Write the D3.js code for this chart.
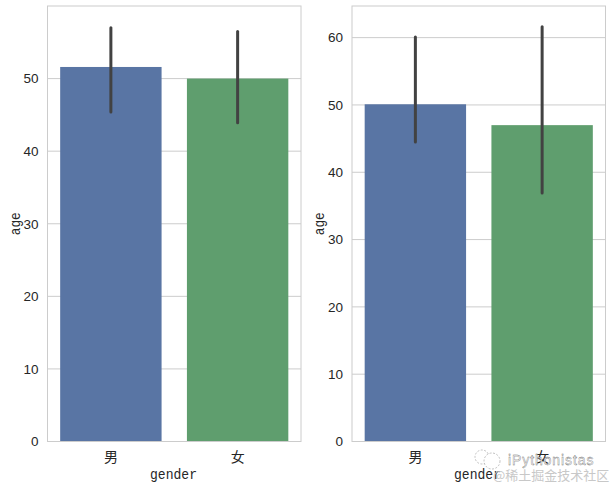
<!DOCTYPE html>
<html>
<head>
<meta charset="utf-8">
<script src="https://cdn.jsdelivr.net/npm/d3@7"></script>
<style>
    body { margin: 0; background: #fff; }
    svg { display: block; }
    .tick text { font-family: "Liberation Sans", sans-serif; font-size: 13.5px; fill: #262626; }
    .cat { font-family: "Noto Sans CJK SC", sans-serif; font-size: 14px; fill: #262626; }
    .label { font-family: "Liberation Mono", monospace; font-size: 15px; fill: #262626; }
</style>
</head>
<body>
<svg id="chart" width="612" height="487"></svg>
<script>
const categories = ['男', '女'];
const barColors = ['#5975a4', '#5f9e6e'];

const leftValues = [51.6, 50.0];
const leftErrLow = [45.4, 43.9];
const leftErrHigh = [57.0, 56.5];
const leftTicks = [0, 10, 20, 30, 40, 50];

const rightValues = [50.1, 47.0];
const rightErrLow = [44.5, 36.9];
const rightErrHigh = [60.1, 61.6];
const rightTicks = [0, 10, 20, 30, 40, 50, 60];

const svg = d3.select('#chart');

function drawPanel(opts) {
    const x = d3.scaleBand()
        .domain(categories)
        .range([opts.left, opts.right])
        .paddingInner(0.2)
        .paddingOuter(0.1);
    const y = d3.scaleLinear()
        .domain([0, opts.yMax])
        .range([opts.bottom, opts.top]);

    const g = svg.append('g');

    // grid lines sit under the bars
    g.selectAll('.grid')
        .data(opts.ticks)
        .enter()
        .append('line')
        .attr('x1', opts.left)
        .attr('x2', opts.right)
        .attr('y1', d => y(d))
        .attr('y2', d => y(d))
        .attr('stroke', '#cccccc')
        .attr('stroke-width', 1);

    g.selectAll('.bar')
        .data(categories)
        .enter()
        .append('rect')
        .attr('x', d => x(d))
        .attr('width', x.bandwidth())
        .attr('y', (d, i) => y(opts.values[i]))
        .attr('height', (d, i) => y(0) - y(opts.values[i]))
        .attr('fill', (d, i) => barColors[i]);

    g.selectAll('.err')
        .data(categories)
        .enter()
        .append('line')
        .attr('x1', d => x(d) + x.bandwidth() / 2)
        .attr('x2', d => x(d) + x.bandwidth() / 2)
        .attr('y1', (d, i) => y(opts.errLow[i]))
        .attr('y2', (d, i) => y(opts.errHigh[i]))
        .attr('stroke', '#424242')
        .attr('stroke-width', 3)
        .attr('stroke-linecap', 'round');

    g.append('rect')
        .attr('x', opts.left)
        .attr('y', opts.top)
        .attr('width', opts.right - opts.left)
        .attr('height', opts.bottom - opts.top)
        .attr('fill', 'none')
        .attr('stroke', '#cccccc')
        .attr('stroke-width', 1);

    const yAxis = g.append('g')
        .attr('transform', `translate(${opts.left}, 0)`)
        .call(d3.axisLeft(y).tickValues(opts.ticks).tickSize(0).tickPadding(9));
    yAxis.select('.domain').remove();

    g.selectAll('.cat')
        .data(categories)
        .enter()
        .append('text')
        .attr('class', 'cat')
        .attr('x', d => x(d) + x.bandwidth() / 2)
        .attr('y', opts.bottom + 20)
        .attr('text-anchor', 'middle')
        .text(d => d);

    // the original label font is narrow, so squeeze the mono glyphs to its width
    g.append('text')
        .attr('class', 'label')
        .attr('x', opts.labelX)
        .attr('y', opts.bottom + 37)
        .attr('text-anchor', 'middle')
        .attr('textLength', 47)
        .attr('lengthAdjust', 'spacingAndGlyphs')
        .text('gender');

    g.append('text')
        .attr('class', 'label')
        .attr('transform', `translate(${opts.left - 28}, ${(opts.top + opts.bottom) / 2}) rotate(-90)`)
        .attr('text-anchor', 'middle')
        .attr('textLength', 23)
        .attr('lengthAdjust', 'spacingAndGlyphs')
        .text('age');
}

drawPanel({
    left: 47.5, right: 301, top: 6, bottom: 441.5, yMax: 60, labelX: 173.5,
    values: leftValues, errLow: leftErrLow, errHigh: leftErrHigh, ticks: leftTicks
});
drawPanel({
    left: 352, right: 605.5, top: 6, bottom: 441.5, yMax: 64.7, labelX: 477.5,
    values: rightValues, errLow: rightErrLow, errHigh: rightErrHigh, ticks: rightTicks
});

// watermark over the bottom right corner
const mark = svg.append('g').attr('fill', 'none').attr('stroke', '#999999').attr('stroke-width', 0.6);
mark.append('circle').attr('cx', 482).attr('cy', 457).attr('r', 7).attr('stroke-dasharray', '2 1.5');
mark.append('circle').attr('cx', 492).attr('cy', 461).attr('r', 8).attr('fill', '#ffffff').attr('stroke-dasharray', '2 1.5');
svg.append('text')
    .attr('x', 508).attr('y', 465)
    .attr('font-family', '"Liberation Sans", sans-serif').attr('font-size', 14)
    .attr('letter-spacing', 0.9)
    .attr('fill', '#ffffff').attr('stroke', '#666666').attr('stroke-width', 0.35)
    .text('iPythonistas');
svg.append('text')
    .attr('x', 493).attr('y', 480)
    .attr('font-family', '"Noto Sans CJK SC", sans-serif').attr('font-size', 13)
    .attr('fill', '#c8c8c8')
    .text('@稀土掘金技术社区');
</script>
</body>
</html>
